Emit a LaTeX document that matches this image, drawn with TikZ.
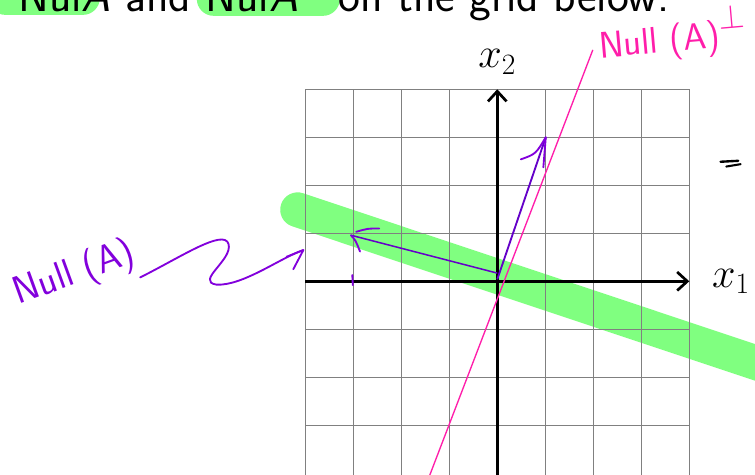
\documentclass[tikz,border=0pt]{standalone}
\usepackage{fix-cm}
\usepackage{fontspec}
\usetikzlibrary{arrows.meta}
\definecolor{hlgreen}{RGB}{128,255,128}
\definecolor{penpink}{RGB}{255,30,170}
\definecolor{penpurple}{RGB}{130,0,220}
\definecolor{vecpurple}{RGB}{100,0,200}
\tikzset{
  gridline/.style={gray,line width=0.6pt},
  axisline/.style={line width=1.6pt,-{Straight Barb[length=6pt,width=11pt]}},
  marker/.style={hlgreen,line width=0.725cm,line cap=round},
  ink/.style={penpurple,line width=1.1pt,line cap=round,line join=round},
  vecline/.style={vecpurple,line width=0.9pt},
  pinkline/.style={penpink,line width=0.8pt}
}
\begin{document}
\begin{tikzpicture}
  \useasboundingbox (-10.36,-4.015) rectangle (5.369,5.86);

  % highlighted title
  \fill[hlgreen,rounded corners=10pt] (-10.6,5.55) rectangle (-8.28,6.6);
  \fill[hlgreen,rounded corners=10pt] (-6.26,5.53) rectangle (-3.28,6.6);
  \node[anchor=base west,inner sep=0pt,font=\sffamily\fontsize{27.5}{33}\selectfont] (task) at (-9.985,5.63)
    {Nul\textsl{A} and Nul\textsl{A}$^{\perp}$ on the grid below.};

  % marker over Null(A)
  \coordinate (M1) at (-4.16,1.49);
  \coordinate (M2) at (6,-1.9);
  \draw[marker] (M1) -- (M2);

  % grid
  \foreach \i in {-4,...,4}
    \draw[gridline] (\i,-4.1) -- (\i,4);
  \foreach \j in {-3,...,4}
    \draw[gridline] (-4,\j) -- (4,\j);

  % axes
  \coordinate (O) at (0,0);
  \coordinate (xL) at (-4,0);
  \coordinate (xR) at (4,0);
  \coordinate (yB) at (0,-4.1);
  \coordinate (yT) at (0,4);
  \draw[axisline] (xL) -- (xR);
  \draw[axisline] (yB) -- (yT);
  \node (x1) at (4.87,0) {\fontsize{25}{30}\selectfont$x_1$};
  \node (x2) at (0,4.57) {\fontsize{25}{30}\selectfont$x_2$};

  % Null(A)^perp
  \coordinate (P1) at (-1.43,-4.1);
  \coordinate (P2) at (1.99,4.82);
  \draw[pinkline] (P1) -- (P2);
  \node[anchor=base west,rotate=5,inner sep=0pt,text=penpink,font=\sffamily\fontsize{22}{26}\selectfont] (perplabel) at (2.14,4.65)
    {Null (A)\raisebox{0.5em}{\fontsize{20}{24}\selectfont$\perp$}};

  % vectors
  \coordinate (A0) at (0,0.17);
  \coordinate (A1) at (-3.05,0.96);
  \coordinate (B0) at (0,0.04);
  \coordinate (B1) at (1.01,3.0);
  \draw[vecline] (A0) -- (A1);
  \draw[ink] (A1) .. controls (-2.95,0.85) .. (-2.86,0.62);
  \draw[ink] (-2.94,1.03) .. controls (-2.7,1.1) .. (-2.46,1.10);
  \draw[ink] (-3.02,0.13) -- (-3.01,-0.08);
  \draw[vecline,line width=1.1pt] (B0) -- (B1);
  \draw[ink] (0.49,2.54) .. controls (0.8,2.65) .. (B1);
  \draw[ink] (0.96,2.375) -- (B1);

  % hand label for Null(A)
  \node[rotate=20,text=penpurple,font=\sffamily\fontsize{23}{27}\selectfont] (nulllabel) at (-8.81,0.15) {Null (A)};
  \coordinate (S0) at (-7.44,0.08);
  \coordinate (S1) at (-4.04,0.65);
  \draw[ink] (S0) .. controls (-6.6,0.5) and (-5.7,1.1) .. (-5.6,0.78)
    .. controls (-5.5,0.45) and (-6.3,0.0) .. (-5.85,-0.07)
    .. controls (-5.3,-0.1) and (-4.5,0.5) .. (S1);
  \draw[ink] (-4.39,0.51) -- (S1) -- (-4.25,0.25);

  % stray mark
  \draw[black,line width=1.4pt,line cap=round] (4.65,2.49) -- (5.02,2.51);
  \draw[black,line width=1.2pt,line cap=round] (4.77,2.39) -- (5.07,2.44);
\end{tikzpicture}
\end{document}
